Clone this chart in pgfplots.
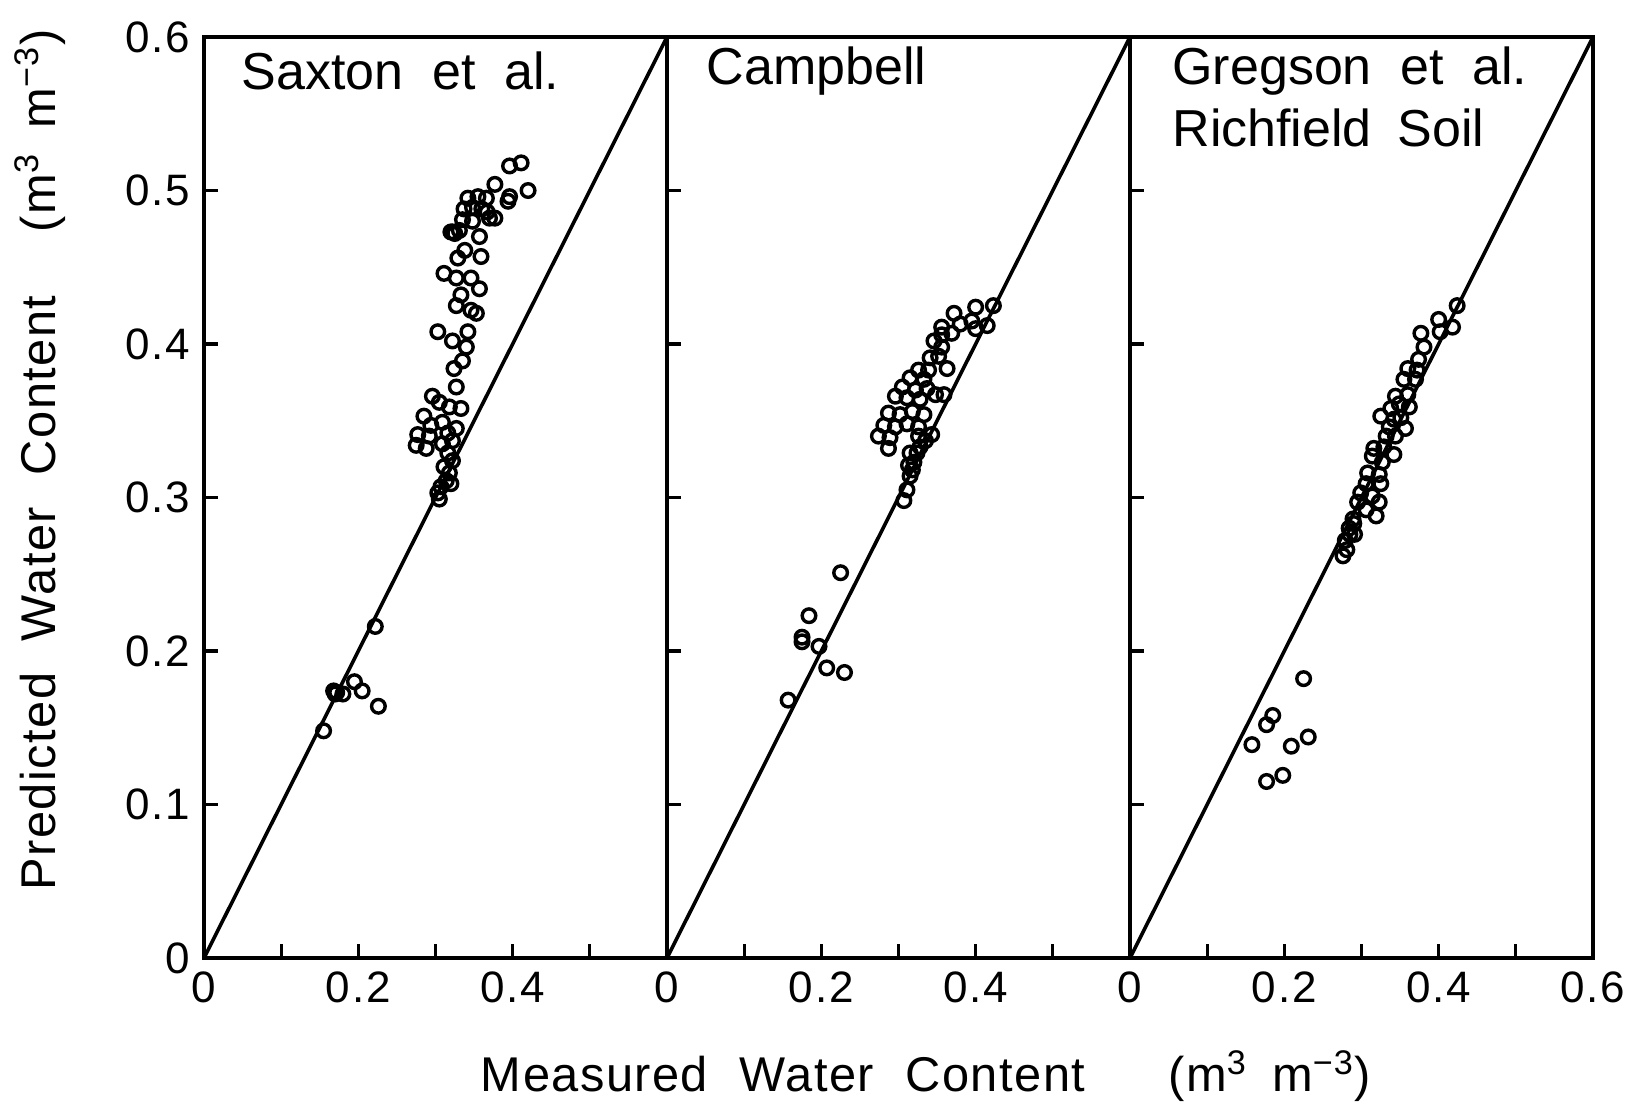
\documentclass[border=0pt]{standalone}
\usepackage{fontspec}
\setmainfont{Liberation Sans}
\newfontfamily\tickfont[LetterSpace=4]{Liberation Sans}
\newfontfamily\labfont[LetterSpace=3]{Liberation Sans}
\usepackage{pgfplots}
\pgfplotsset{compat=1.18}
\begin{document}
\begin{tikzpicture}
\pgfplotsset{
  panel/.style={
    scale only axis, width=115.75pt, height=230.25pt,
    xmin=0, xmax=0.6, ymin=0, ymax=0.6,
    axis line style={line width=0.9pt},
    tick align=inside, major tick length=3.5pt,
    tick style={line width=0.8pt, black},
    xtick pos=lower, ytick pos=left,
    xtick={0,0.1,0.2,0.3,0.4,0.5},
    xticklabels={0,,0.2,,0.4,},
    ytick={0,0.1,0.2,0.3,0.4,0.5,0.6},
    yticklabels={},
    ticklabel style={font=\fontsize{11}{13}\tickfont},
    /pgf/number format/assume math mode=true,
    clip=false,
  },
  pts/.style={only marks, mark=o, mark size=1.7pt, mark options={line width=0.85pt, black}},
  diag/.style={line width=0.9pt, black, no marks},
}
% ---------- Panel 1: Saxton et al.
\begin{axis}[panel, at={(0pt,0pt)}, anchor=south west,
  yticklabels={0,0.1,0.2,0.3,0.4,0.5,0.6}]
\addplot[diag] coordinates {(0,0) (0.6,0.6)};
\addplot[pts] coordinates {
(0.155,0.148) (0.168,0.174) (0.172,0.173) (0.170,0.172) (0.180,0.172) (0.195,0.180) (0.205,0.174) (0.222,0.216) (0.226,0.164)
(0.411,0.518) (0.396,0.516) (0.420,0.500) (0.377,0.504) (0.396,0.496) (0.394,0.493)
(0.342,0.495) (0.355,0.496) (0.366,0.495) (0.337,0.488) (0.348,0.489) (0.360,0.488) (0.377,0.482)
(0.335,0.481) (0.348,0.480) (0.370,0.482) (0.367,0.486)
(0.320,0.473) (0.322,0.473) (0.325,0.472) (0.331,0.474) (0.357,0.470)
(0.338,0.461) (0.329,0.456) (0.359,0.457)
(0.311,0.446) (0.327,0.443) (0.346,0.443) (0.357,0.436)
(0.333,0.432) (0.327,0.425) (0.346,0.422) (0.353,0.420)
(0.303,0.408) (0.322,0.402) (0.342,0.408) (0.340,0.398)
(0.335,0.389) (0.324,0.384) (0.327,0.372)
(0.296,0.366) (0.305,0.362) (0.318,0.359) (0.333,0.358)
(0.285,0.353) (0.309,0.349) (0.294,0.347) (0.327,0.345)
(0.277,0.341) (0.292,0.340) (0.316,0.342)
(0.275,0.334) (0.288,0.332) (0.309,0.335) (0.322,0.337)
(0.316,0.329) (0.322,0.324) (0.311,0.320) (0.318,0.316) (0.314,0.311) (0.320,0.309)
(0.307,0.307) (0.305,0.299) (0.303,0.303)
};
\node[anchor=west, inner sep=0pt, font=\fontsize{13}{16}\selectfont] at (rel axis cs:0.08,0.963)
  {Saxton\hspace{0.55em}et\hspace{0.55em}al.};
\end{axis}
% ---------- Panel 2: Campbell
\begin{axis}[panel, at={(115.75pt,0pt)}, anchor=south west]
\addplot[diag] coordinates {(0,0) (0.6,0.6)};
\addplot[pts] coordinates {
(0.225,0.251) (0.184,0.223) (0.175,0.209) (0.175,0.206) (0.197,0.203) (0.207,0.189) (0.230,0.186) (0.157,0.168)
(0.423,0.425) (0.400,0.424) (0.372,0.420) (0.395,0.415) (0.415,0.412) (0.400,0.410) (0.380,0.413)
(0.356,0.411) (0.369,0.407) (0.356,0.406) (0.346,0.402) (0.356,0.398)
(0.341,0.391) (0.352,0.392) (0.363,0.384) (0.326,0.383) (0.339,0.383)
(0.315,0.378) (0.333,0.377) (0.305,0.372) (0.322,0.370) (0.337,0.371)
(0.296,0.366) (0.311,0.365) (0.328,0.364) (0.348,0.367) (0.359,0.367)
(0.287,0.355) (0.302,0.354) (0.318,0.356) (0.333,0.354)
(0.281,0.347) (0.296,0.346) (0.311,0.348) (0.326,0.346)
(0.274,0.340) (0.289,0.339) (0.287,0.332) (0.343,0.341) (0.335,0.337) (0.326,0.340)
(0.328,0.333) (0.324,0.329) (0.315,0.329) (0.320,0.323) (0.313,0.321) (0.318,0.318)
(0.315,0.314) (0.311,0.305) (0.307,0.298)
};
\node[anchor=west, inner sep=0pt, font=\fontsize{13}{16}\selectfont] at (rel axis cs:0.084,0.963)
  {Campbell};
\end{axis}
% ---------- Panel 3: Gregson et al.
\begin{axis}[panel, at={(231.5pt,0pt)}, anchor=south west,
  xtick={0,0.1,0.2,0.3,0.4,0.5,0.6}, xticklabels={0,,0.2,,0.4,,0.6}]
\addplot[diag] coordinates {(0,0) (0.6,0.6)};
\addplot[pts] coordinates {
(0.225,0.182) (0.185,0.158) (0.177,0.152) (0.158,0.139) (0.231,0.144) (0.209,0.138) (0.198,0.119) (0.177,0.115)
(0.424,0.425) (0.400,0.416) (0.418,0.411) (0.402,0.408) (0.377,0.407) (0.381,0.398)
(0.374,0.390) (0.360,0.384) (0.372,0.383) (0.355,0.377) (0.370,0.377)
(0.344,0.366) (0.360,0.367) (0.349,0.361) (0.362,0.359) (0.338,0.358)
(0.325,0.353) (0.342,0.351) (0.351,0.352) (0.336,0.346) (0.357,0.345)
(0.332,0.340) (0.344,0.340) (0.316,0.332) (0.329,0.333) (0.342,0.328)
(0.314,0.327) (0.327,0.323) (0.308,0.316) (0.323,0.315) (0.306,0.309) (0.325,0.309)
(0.299,0.303) (0.314,0.301) (0.295,0.297) (0.323,0.297) (0.306,0.292) (0.319,0.288)
(0.289,0.286) (0.284,0.280) (0.291,0.276) (0.276,0.262) (0.281,0.266) (0.279,0.272) (0.285,0.276) (0.290,0.283)
};
\node[anchor=west, inner sep=0pt, font=\fontsize{13}{16}\selectfont] at (rel axis cs:0.09,0.963)
  {Gregson\hspace{0.55em}et\hspace{0.55em}al.};
\node[anchor=west, inner sep=0pt, font=\fontsize{13}{16}\selectfont] at (rel axis cs:0.09,0.9015)
  {Richfield\hspace{0.5em}Soil};
\end{axis}
% ---------- axis titles
\node[font=\fontsize{12.2}{14}\labfont] at (180.5pt,-29.5pt)
  {Measured\hspace{0.65em}Water\hspace{0.65em}Content\hspace{1.7em}(m\textsuperscript{3}\hspace{0.5em}m\textsuperscript{−3})};
\node[rotate=90, font=\fontsize{12.2}{14}\labfont] at (-41pt,124.5pt)
  {Predicted\hspace{0.65em}Water\hspace{0.65em}Content\hspace{1.3em}(m\textsuperscript{3}\hspace{0.5em}m\textsuperscript{−3})};
\pgfresetboundingbox
\useasboundingbox (-51pt,-37.5pt) rectangle (359.25pt,239.5pt);
\end{tikzpicture}
\end{document}
